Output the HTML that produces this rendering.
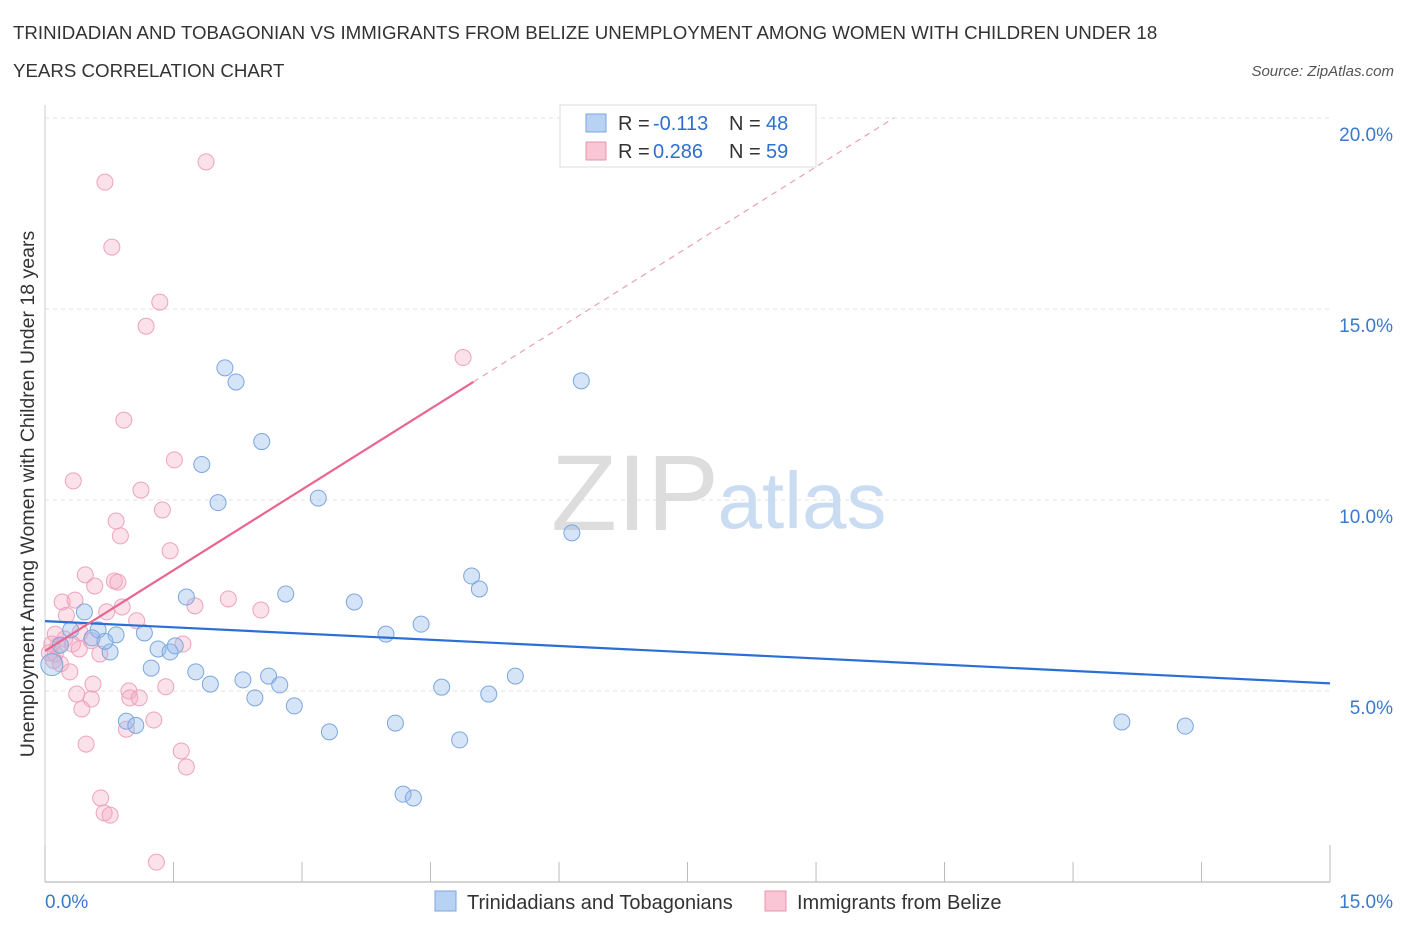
<!DOCTYPE html>
<html><head><meta charset="utf-8"><style>
body{margin:0;background:#fff;font-family:"Liberation Sans",sans-serif;}
svg text{font-family:"Liberation Sans",sans-serif;}
</style></head><body>
<svg id="chart" width="1406" height="930" viewBox="0 0 1406 930" xmlns="http://www.w3.org/2000/svg">
<text x="13" y="39" font-size="18.7" fill="#333">TRINIDADIAN AND TOBAGONIAN VS IMMIGRANTS FROM BELIZE UNEMPLOYMENT AMONG WOMEN WITH CHILDREN UNDER 18</text>
<text x="13" y="77" font-size="18.7" fill="#333">YEARS CORRELATION CHART</text>
<text x="1394" y="76" font-size="15" fill="#555" text-anchor="end" font-style="italic">Source: ZipAtlas.com</text>
<g id="grid"></g>
<g>
<text x="635" y="530" font-size="108" fill="#ddd" text-anchor="middle" font-family="Liberation Serif,serif">ZIP</text>
<text x="802" y="528" font-size="80" fill="#c9dcf2" text-anchor="middle">atlas</text>
</g>
<g id="axes"></g>
<g id="pts"></g>
<g id="lines"></g>
<text transform="translate(34,494) rotate(-90)" font-size="19.5" fill="#333" text-anchor="middle">Unemployment Among Women with Children Under 18 years</text>
<g>
<rect x="560" y="105" width="256" height="62" fill="#fff" stroke="#ddd"/>
<rect x="586" y="114" width="20" height="18" fill="#b8d2f3" stroke="#7aa6e0"/>
<rect x="586" y="142" width="20" height="18" fill="#f8c6d4" stroke="#e994ae"/>
<text x="618" y="130" font-size="20" fill="#333">R =</text>
<text x="653" y="130" font-size="20" fill="#2f6fce">-0.113</text>
<text x="729" y="130" font-size="20" fill="#333">N =</text>
<text x="766" y="130" font-size="20" fill="#2f6fce">48</text>
<text x="618" y="158" font-size="20" fill="#333">R =</text>
<text x="653" y="158" font-size="20" fill="#2f6fce">0.286</text>
<text x="729" y="158" font-size="20" fill="#333">N =</text>
<text x="766" y="158" font-size="20" fill="#2f6fce">59</text>
</g>
<g>
<rect x="435" y="891" width="21" height="20" fill="#b8d2f3" stroke="#7aa6e0"/>
<text x="467" y="909" font-size="20" fill="#333">Trinidadians and Tobagonians</text>
<rect x="765" y="891" width="21" height="20" fill="#f8c6d4" stroke="#e994ae"/>
<text x="797" y="909" font-size="20" fill="#333">Immigrants from Belize</text>
</g>
</svg>
<script>
const xTicks=[0,1.5,3,4.5,6,7.5,9,10.5,12,13.5,15];
const yTicks=[5,10,15,20];
const yTickLabels=["5.0%","10.0%","15.0%","20.0%"];
const blueX=[0.08,0.46,0.62,0.76,0.83,0.55,0.95,1.06,1.16,1.24,1.32,1.46,1.52,1.65,1.76,1.83,1.93,2.02,2.1,2.23,2.31,2.45,2.53,2.61,2.74,2.81,2.91,3.19,3.32,3.61,3.98,4.09,4.18,4.3,4.39,4.63,4.84,4.98,5.07,5.18,5.49,6.15,6.26,12.57,13.31,0.18,0.3,0.7];
const blueY=[5.69,7.07,6.6,6.02,6.47,6.39,4.21,4.1,6.52,5.6,6.1,6.02,6.18,7.46,5.5,10.93,5.18,9.93,13.46,13.09,5.29,4.82,11.53,5.39,5.16,7.54,4.61,10.05,3.93,7.33,6.49,4.16,2.3,2.2,6.75,5.1,3.72,8.01,7.67,4.92,5.39,9.14,13.12,4.19,4.08,6.2,6.6,6.3];
const pinkX=[1.88,0.7,0.78,1.34,1.18,0.92,0.33,1.51,1.12,0.83,0.88,1.37,1.46,0.47,0.58,0.81,0.85,0.2,0.35,0.25,0.72,0.9,1.07,1.75,2.14,2.52,1.61,0.41,0.54,0.12,0.12,0.29,0.64,0.32,0.15,0.56,0.37,0.54,0.98,0.99,1.1,1.41,0.43,0.95,1.27,1.59,1.65,0.48,0.65,0.69,0.76,1.3,4.88,0.08,0.18,0.23,0.05,0.4,0.1];
const pinkY=[18.85,18.32,16.62,15.18,14.55,12.09,10.5,11.05,10.26,9.45,9.06,9.74,8.67,8.04,7.75,7.88,7.85,7.33,7.38,6.98,7.07,7.2,6.84,7.23,7.41,7.12,6.23,6.53,6.32,6.49,5.97,5.5,5.97,6.23,6.18,5.18,4.92,4.79,5.0,4.82,4.82,5.11,4.53,4.0,4.24,3.43,3.01,3.61,2.2,1.81,1.75,0.52,13.73,6.23,5.71,6.36,6.0,6.1,5.8];
const blueLine=[6.83,5.2];
const pinkLine=[6.05,13.09];
const pinkLineEndX=5.0;
const X=v=>45+v*85.67, Y=v=>882-v*38.2;
const NS="http://www.w3.org/2000/svg";
function mk(tag,attrs,parent){const e=document.createElementNS(NS,tag);for(const k in attrs)e.setAttribute(k,attrs[k]);document.getElementById(parent).appendChild(e);return e;}
yTicks.forEach((t,i)=>{
 const g=mk('line',{x1:45,x2:1330,y1:Y(t),y2:Y(t),stroke:'#e2e2e2','stroke-dasharray':'4,4'},'grid');
 
 
 const tx=mk('text',{x:1393,y:Y(t)+23,'font-size':19,fill:'#3b78d0','text-anchor':'end'},'axes');
 tx.textContent=yTickLabels[i];
 
 
});
const ax=mk('line',{x1:45,x2:1330,y1:882,y2:882,stroke:'#aaa'},'axes');


const ay=mk('line',{x1:45,x2:45,y1:105,y2:882,stroke:'#ccc'},'axes');


xTicks.forEach(t=>{
 const l=mk('line',{x1:X(t),x2:X(t),y1:882,y2:(t===0||t===15)?845:862,stroke:'#bbb'},'axes');
 
 
});
const xl0=mk('text',{x:45,y:908,'font-size':19,fill:'#3b78d0','text-anchor':'start'},'axes');xl0.textContent='0.0%';


const xl1=mk('text',{x:1393,y:908,'font-size':19,fill:'#3b78d0','text-anchor':'end'},'axes');xl1.textContent='15.0%';


pinkX.forEach((v,i)=>{
 const c=mk('circle',{cx:X(v),cy:Y(pinkY[i]),r:8,fill:'rgba(244,170,195,0.35)',stroke:'#eea3bb','stroke-width':1},'pts');
 
 
});
blueX.forEach((v,i)=>{
 const c=mk('circle',{cx:X(v),cy:Y(blueY[i]),r:i===0?11:8,fill:'rgba(150,188,235,0.4)',stroke:'#7ba7df','stroke-width':1},'pts');
 
 
});
const bl=mk('line',{x1:X(0),y1:Y(blueLine[0]),x2:X(15),y2:Y(blueLine[1]),stroke:'#2b6fd6','stroke-width':2.2},'lines');


const slope=(pinkLine[1]-pinkLine[0])/pinkLineEndX;
const pl=mk('line',{x1:X(0),y1:Y(pinkLine[0]),x2:X(pinkLineEndX),y2:Y(pinkLine[1]),stroke:'#e8668f','stroke-width':2.2},'lines');


const xe=(20-pinkLine[0])/slope;
const pd=mk('line',{x1:X(pinkLineEndX),y1:Y(pinkLine[1]),x2:X(xe),y2:Y(20),stroke:'#eaa0b8','stroke-width':1.2,'stroke-dasharray':'6,5'},'lines');


</script>
</body></html>
